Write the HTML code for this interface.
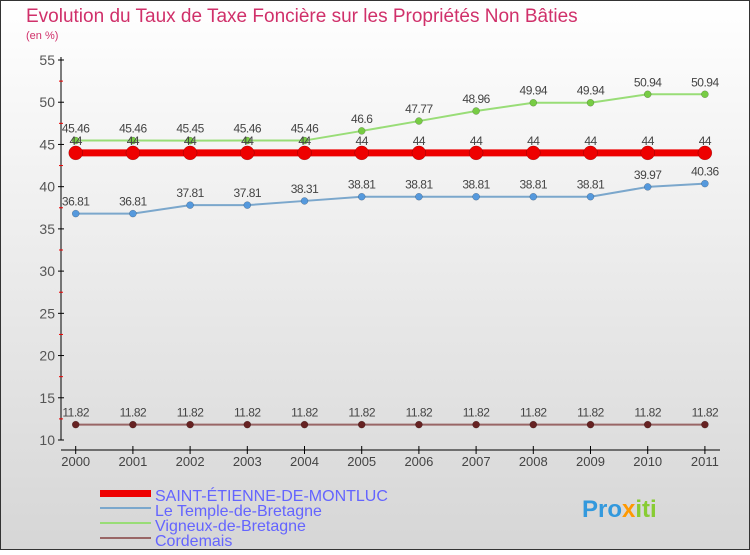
<!DOCTYPE html>
<html><head><meta charset="utf-8"><style>
body{margin:0;width:750px;height:550px;overflow:hidden;font-family:"Liberation Sans",sans-serif}
svg text{font-family:"Liberation Sans",sans-serif}
</style></head><body>
<svg id="chart" width="750" height="550" xmlns="http://www.w3.org/2000/svg">
<defs><linearGradient id="bg" x1="0" y1="0" x2="0" y2="1"><stop offset="0" stop-color="#ffffff"/><stop offset="1" stop-color="#d6d6d6"/></linearGradient></defs>
<rect x="0.5" y="0.5" width="749" height="549" fill="url(#bg)" stroke="#333"/>
<text x="26" y="22" font-size="19" fill="#d0306a">Evolution du Taux de Taxe Foncière sur les Propriétés Non Bâties</text>
<text x="26" y="39" font-size="11" fill="#d0306a">(en %)</text>
<g id="axes"></g><g id="series"></g>
<g>
<rect x="100" y="490" width="51" height="7" fill="#ee0000"/>
<text x="155" y="501" font-size="16" fill="#6464ff">SAINT-ÉTIENNE-DE-MONTLUC</text>
<rect x="100" y="507" width="51" height="2" fill="#7ba7cc"/>
<text x="155" y="516" font-size="16" fill="#6464ff">Le Temple-de-Bretagne</text>
<rect x="100" y="522" width="51" height="2" fill="#99dd77"/>
<text x="155" y="531" font-size="16" fill="#6464ff">Vigneux-de-Bretagne</text>
<rect x="100" y="537" width="51" height="2" fill="#996666"/>
<text x="155" y="546" font-size="16" fill="#6464ff">Cordemais</text>
</g>
<text x="582" y="517" font-size="24" font-weight="bold" fill="#3399dd">Pro<tspan fill="#ff9900">x</tspan><tspan fill="#88cc33">iti</tspan></text>
</svg>
<script>
const years=[2000,2001,2002,2003,2004,2005,2006,2007,2008,2009,2010,2011];
const yTicks=[10,15,20,25,30,35,40,45,50,55];
const saint=[44,44,44,44,44,44,44,44,44,44,44,44];
const temple=[36.81,36.81,37.81,37.81,38.31,38.81,38.81,38.81,38.81,38.81,39.97,40.36];
const vigneux=[45.46,45.46,45.45,45.46,45.46,46.6,47.77,48.96,49.94,49.94,50.94,50.94];
const cordemais=[11.82,11.82,11.82,11.82,11.82,11.82,11.82,11.82,11.82,11.82,11.82,11.82];
const NS="http://www.w3.org/2000/svg";
const X=i=>75.7+i*57.2;
const Y=v=>440-(v-10)*(380/45);
function mk(p,tag,at){const e=document.createElementNS(NS,tag);for(const k in at)e.setAttribute(k,at[k]);p.appendChild(e);return e;}
const ax=document.getElementById('axes');
let a=mk(ax,'line',{x1:61,y1:57,x2:61,y2:440,stroke:'#000'});


a=mk(ax,'line',{x1:61,y1:450,x2:720,y2:450,stroke:'#000'});


yTicks.forEach(t=>{const y=Y(t);
 mk(ax,'line',{x1:58,y1:y,x2:64,y2:y,stroke:'#000'});
 if(t<55)mk(ax,'line',{x1:59,y1:Y(t+2.5),x2:63,y2:Y(t+2.5),stroke:'#e00'});
 const tx=mk(ax,'text',{x:55,y:y+5,'font-size':14,fill:'#555','text-anchor':'end'});tx.textContent=t;
 
 });
years.forEach((yr,i)=>{const x=X(i);
 mk(ax,'line',{x1:x,y1:446,x2:x,y2:454,stroke:'#000'});
 const tx=mk(ax,'text',{x:x,y:466,'font-size':13,fill:'#444','text-anchor':'middle'});tx.textContent=yr;
 
 });
const sg=document.getElementById('series');
function series(vals,name,lc,lw,pc,r){
 const g=mk(sg,'g',{});
 
 
 mk(g,'polyline',{points:vals.map((v,i)=>X(i)+','+Y(v)).join(' '),fill:'none',stroke:lc,'stroke-width':lw});
 vals.forEach((v,i)=>{const c=mk(g,'circle',{cx:X(i),cy:Y(v),r:r,fill:pc,stroke:'#00000055','stroke-width':0.5});
  
  
  const t=mk(g,'text',{x:X(i),y:Y(v)-8,'font-size':12,fill:'#444','text-anchor':'middle','letter-spacing':'-0.5'});t.textContent=v;
  
  });
}
series(cordemais,'cordemais','#996666',2,'#662222',3.5);
series(temple,'le-temple','#7ba7cc',2,'#5599dd',3.5);
series(vigneux,'vigneux','#99dd77',2,'#77cc44',3.5);
series(saint,'saint-etienne','#ee0000',7,'#ee0000',7);
</script>
</body></html>
